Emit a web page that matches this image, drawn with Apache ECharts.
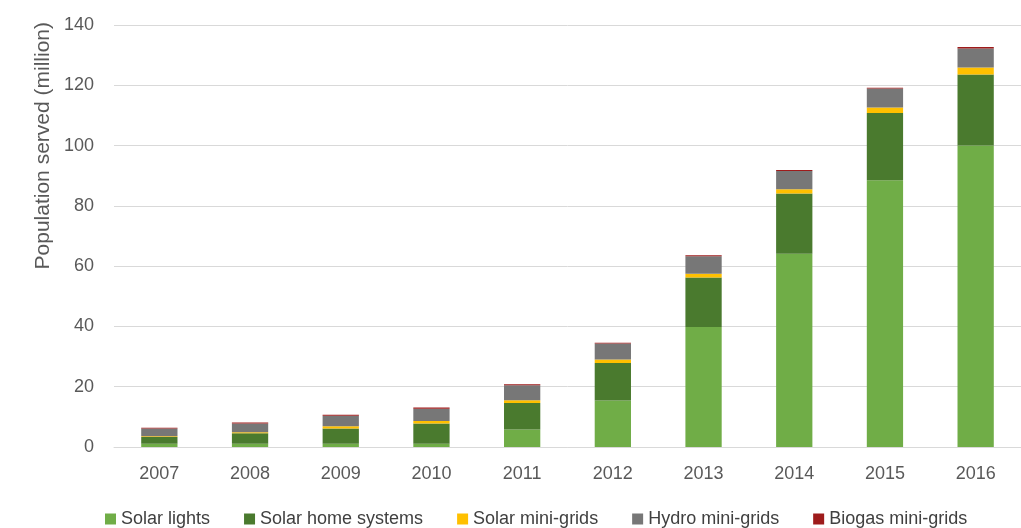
<!DOCTYPE html>
<html>
<head>
<meta charset="utf-8">
<script src="https://cdn.jsdelivr.net/npm/echarts@6/dist/echarts.min.js"></script>
<style>
  html, body { margin: 0; padding: 0; background: #fff; }
  #main { width: 1021px; height: 528px; }
</style>
</head>
<body>
<div id="main"></div>
<script>
  // data (million people)
  var years = ['2007', '2008', '2009', '2010', '2011', '2012', '2013', '2014', '2015', '2016'];
  var solarLights = [1.1, 1.1, 1.1, 1.1, 5.8, 15.4, 39.8, 64.1, 88.5, 100.0];
  var solarHome = [2.2, 3.5, 5.0, 6.7, 8.8, 12.5, 16.4, 20.0, 22.3, 23.6];
  var solarMini = [0.3, 0.3, 0.8, 0.8, 0.9, 1.1, 1.3, 1.4, 1.8, 2.3];
  var hydroMini = [2.5, 2.9, 3.5, 4.1, 5.0, 5.3, 5.8, 6.1, 6.3, 6.3];
  var biogasMini = [0.3, 0.3, 0.3, 0.4, 0.3, 0.3, 0.3, 0.3, 0.3, 0.5];

  var font = '"Liberation Sans", sans-serif';

  var myChart = echarts.init(document.getElementById('main'));

  function bar(name, data, color) {
    return {
      name: name,
      type: 'bar',
      stack: 'total',
      barWidth: '40%',
      data: data,
      itemStyle: { color: color },
      emphasis: { disabled: true }
    };
  }

  var option = {
    animation: false,
    textStyle: { fontFamily: font },
    grid: { left: 114, right: -13, top: 25, bottom: 81 },
    legend: {
      top: 505,
      left: 100,
      itemWidth: 11,
      itemHeight: 11,
      itemGap: 34,
      icon: 'rect',
      textStyle: { fontSize: 18, color: '#404040', fontFamily: font },
      data: ['Solar lights', 'Solar home systems', 'Solar mini-grids', 'Hydro mini-grids', 'Biogas mini-grids']
    },
    xAxis: {
      type: 'category',
      data: years,
      axisTick: { show: false },
      axisLine: { lineStyle: { color: '#d9d9d9', width: 1 } },
      axisLabel: { color: '#595959', fontSize: 18, margin: 18, fontFamily: font }
    },
    yAxis: {
      type: 'value',
      min: 0,
      max: 140,
      interval: 20,
      axisLine: { show: false },
      axisTick: { show: false },
      splitLine: { lineStyle: { color: '#d9d9d9', width: 1 } },
      axisLabel: { color: '#595959', fontSize: 18, margin: 20, fontFamily: font }
    },
    graphic: [
      {
        type: 'text',
        left: 33,
        top: 22,
        rotation: Math.PI / 2,
        style: {
          text: 'Population served (million)',
          fill: '#595959',
          font: '21px ' + font
        }
      }
    ],
    series: [
      bar('Solar lights', solarLights, '#70ad47'),
      bar('Solar home systems', solarHome, '#4a7a2e'),
      bar('Solar mini-grids', solarMini, '#ffc000'),
      bar('Hydro mini-grids', hydroMini, '#777777'),
      bar('Biogas mini-grids', biogasMini, '#9e1b1b')
    ]
  };

  myChart.setOption(option);
</script>
</body>
</html>
